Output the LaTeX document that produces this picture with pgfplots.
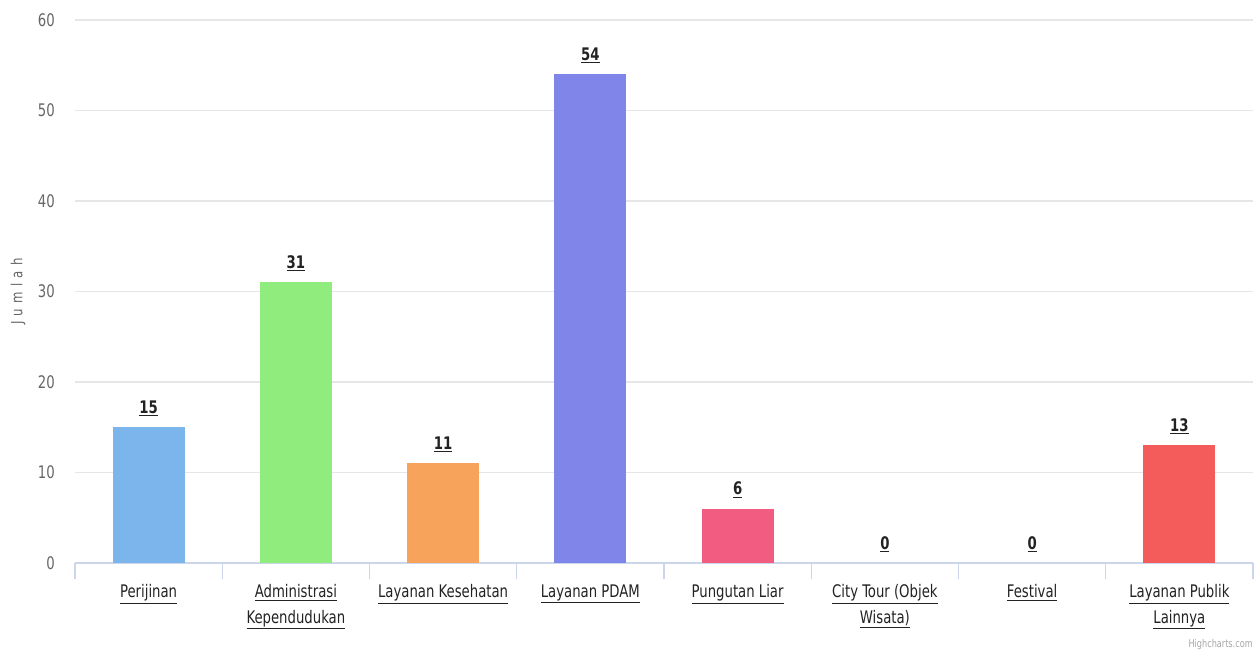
\documentclass[border=0pt]{standalone}
\usepackage{fontspec}
\setmainfont{DejaVu Sans Condensed}[FakeStretch=0.85]
\usepackage{pgfplots}
\pgfplotsset{compat=1.18}
\definecolor{cA}{HTML}{7CB5EC}
\definecolor{cB}{HTML}{90ED7D}
\definecolor{cC}{HTML}{F7A35C}
\definecolor{cD}{HTML}{8085E9}
\definecolor{cE}{HTML}{F15C80}
\definecolor{cF}{HTML}{E4D354}
\definecolor{cG}{HTML}{2B908F}
\definecolor{cH}{HTML}{F45B5B}
\definecolor{gridc}{HTML}{E6E6E6}
\definecolor{axisc}{HTML}{CCD6EB}
\definecolor{txtc}{HTML}{222222}
\definecolor{tickc}{HTML}{666666}
\begin{document}
\begin{tikzpicture}
\path[use as bounding box] (-56.25pt,-70.5pt) rectangle (888.75pt,422.25pt);
\begin{axis}[
  at={(0pt,0pt)}, anchor=south west,
  scale only axis, width=883.5pt, height=407.25pt,
  xmin=-0.5, xmax=7.5, ymin=0, ymax=60,
  ybar, bar width=54pt, bar shift=0pt,
  separate axis lines,
  axis x line*=bottom, axis y line*=left,
  y axis line style={draw=none},
  x axis line style={draw=axisc, line width=0.8pt},
  ytick={0,10,...,60},
  ymajorgrids, grid style={draw=gridc, line width=0.8pt},
  xtick={0,...,7},
  xticklabels={
    \underline{Perijinan},
    {\underline{Administrasi}\\\underline{Kependudukan}},
    \underline{Layanan Kesehatan},
    \underline{Layanan PDAM},
    \underline{Pungutan Liar},
    {\underline{City Tour (Objek}\\\underline{Wisata)}},
    \underline{Festival},
    {\underline{Layanan Publik}\\\underline{Lainnya}}},
  minor xtick={-0.5,0.5,...,7.5},
  major tick length=0pt,
  minor tick length=12pt,
  tick align=outside,
  minor x tick style={draw=axisc, line width=0.8pt},
  xticklabel style={font=\fontsize{13}{19}\selectfont, text=txtc, align=center, anchor=north, inner sep=0pt, yshift=-16pt},
  yticklabel style={font=\fontsize{13}{15}\selectfont, text=tickc, anchor=east, inner sep=0pt, xshift=-15pt},
  /pgf/number format/assume math mode=true,
  ylabel={J\hspace{4pt}u\hspace{4pt}m\hspace{4pt}l\hspace{4pt}a\hspace{4pt}h},
  every axis y label/.style={at={(rel axis cs:0,0.5)}, xshift=-42.75pt, rotate=90, anchor=center, font=\fontsize{11.5}{13}\selectfont, text=tickc},
  point meta=explicit symbolic,
  nodes near coords={\bfseries\underline{\pgfplotspointmeta}},
  every node near coord/.append style={font=\fontsize{13}{15}\selectfont, text=txtc, anchor=south, inner sep=0pt, yshift=8pt},
  clip=false,
]
\addplot[fill=cA, draw=none] coordinates {(0,15) [15]};
\addplot[fill=cB, draw=none] coordinates {(1,31) [31]};
\addplot[fill=cC, draw=none] coordinates {(2,11) [11]};
\addplot[fill=cD, draw=none] coordinates {(3,54) [54]};
\addplot[fill=cE, draw=none] coordinates {(4,6) [6]};
\addplot[fill=none, draw=none] coordinates {(5,0) [0]};
\addplot[fill=none, draw=none] coordinates {(6,0) [0]};
\addplot[fill=cH, draw=none] coordinates {(7,13) [13]};
\node[anchor=east, inner sep=0pt, font=\fontsize{8}{9}\selectfont, text=gray!70] at (rel axis cs:1,0) [yshift=-61.5pt] {Highcharts.com};
\end{axis}
\end{tikzpicture}
\end{document}
